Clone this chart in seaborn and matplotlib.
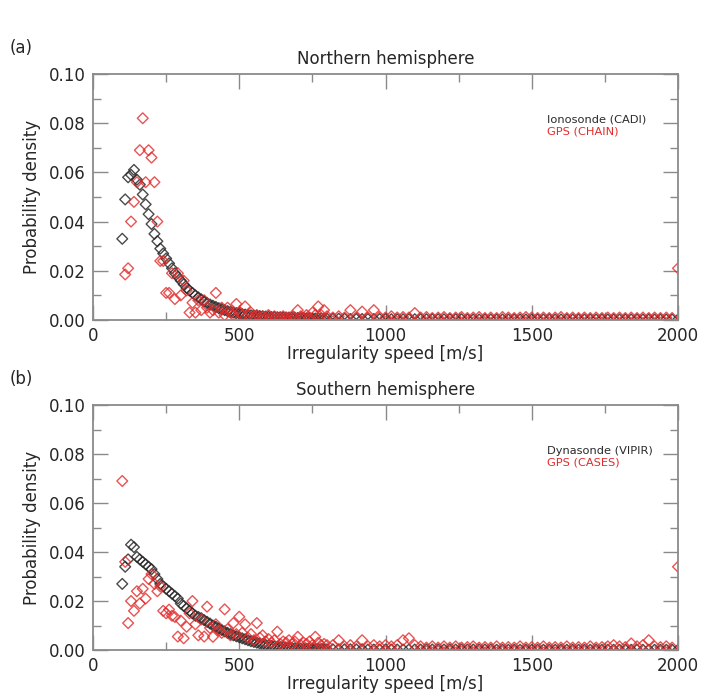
import numpy as np
import pandas as pd
import matplotlib
matplotlib.use("Agg")
import matplotlib.pyplot as plt
import seaborn as sns
from matplotlib.ticker import MultipleLocator

# ---------------- data ----------------
# speed bins [m/s]: 10 m/s bins up to 800, then every 20 m/s up to 2000
near_a_black = list(range(100, 801, 10))
near_red_a = list(range(110, 801, 10))
near_b = list(range(100, 801, 10))
far = list(range(820, 2001, 20))

iono_cadi_near = [
    .033, .049, .058, .059, .061, .057, .055, .051, .047, .043,
    .039, .035, .032, .029, .027, .025, .023, .021, .019, .0175,
    .016, .0145, .013, .012, .011, .010, .0092, .0084, .0076, .0069,
    .0063, .0058, .0053, .0048, .0044, .0040, .0036, .0033, .0030, .0028,
    .0026, .0024, .0022, .0020, .0019, .0018, .0017, .0016, .0015, .0014,
    .0013, .0012, .0012, .0011, .0011, .0010, .0010, .0009, .0009, .0008,
    .0008, .0008, .0007, .0007, .0007, .0006, .0006, .0006, .0006, .0005,
    .0005]
iono_cadi_far = [
    .0005, .0005, .0005, .0004, .0004, .0004, .0004, .0004, .0004, .0004,
    .0003, .0003, .0003, .0003, .0003, .0003, .0003, .0003, .0003, .0003,
    .0003, .0003, .0003, .0002, .0002, .0002, .0002, .0002, .0002, .0002,
    .0002, .0002, .0002, .0002, .0002, .0002, .0002, .0002, .0002, .0002,
    .0002, .0002, .0002, .0002, .0002, .0002, .0002, .0002, .0002, .0002,
    .0002, .0002, .0002, .0002, .0002, .0002, .0002, .0002, .0002, .0002]

gps_chain_near = [
    .0185, .021, .040, .048, .056, .069, .082, .056, .069, .066,
    .056, .040, .024, .024, .011, .011, .019, .0085, .019, .010,
    .016, .012, .003, .007, .003, .008, .004, .008, .005, .003,
    .004, .011, .003, .005, .002, .005, .003, .002, .0065, .003,
    .002, .0055, .002, .003, .0015, .002, .001, .0015, .001, .002,
    .001, .0015, .001, .001, .0015, .001, .001, .0015, .001, .004,
    .0015, .001, .002, .001, .003, .002, .0055, .002, .004, .0015]
gps_chain_far = [
    .001, .0015, .001, .004, .001, .0034, .001, .004, .0012, .001,
    .0015, .001, .0012, .001, .0028, .001, .0012, .0008, .001, .0012,
    .0008, .001, .0012, .0008, .001, .0012, .0008, .001, .0008, .0012,
    .001, .0008, .001, .0012, .001, .0008, .001, .0008, .001, .0012,
    .0008, .001, .0008, .001, .0008, .001, .0008, .001, .0008, .001,
    .0008, .001, .0008, .001, .0008, .001, .0008, .001, .0008, .021]

dyna_vipir_near = [
    .027, .034, .037, .043, .042, .038, .037, .036, .035, .034,
    .033, .031, .029, .027, .026, .025, .024, .023, .022, .021,
    .019, .018, .017, .016, .015, .014, .0135, .013, .0122, .0115,
    .0108, .010, .0095, .0088, .0082, .0076, .0070, .0065, .0060, .0056,
    .0052, .0048, .0044, .0040, .0036, .0033, .0030, .0027, .0024, .0021,
    .0019, .0017, .0015, .0013, .0012, .0011, .0010, .0009, .0008, .0007,
    .0006, .0006, .0005, .0005, .0005, .0004, .0004, .0004, .0004, .0003,
    .0003]
dyna_vipir_far = [
    .0003, .0003, .0003, .0003, .0003, .0003, .0002, .0002, .0002, .0002,
    .0002, .0002, .0002, .0002, .0002, .0002, .0002, .0002, .0002, .0002,
    .0002, .0002, .0002, .0002, .0002, .0002, .0002, .0002, .0001, .0001,
    .0001, .0001, .0001, .0001, .0001, .0001, .0001, .0001, .0001, .0001,
    .0001, .0001, .0001, .0001, .0001, .0001, .0001, .0001, .0001, .0001,
    .0001, .0001, .0001, .0001, .0001, .0001, .0001, .0001, .0001, .0001]

gps_cases_near = [
    .069, .036, .011, .020, .016, .024, .019, .025, .021, .029,
    .031, .027, .024, .026, .016, .015, .0165, .014, .0135, .0055,
    .012, .0048, .0095, .015, .020, .0105, .006, .0125, .0055, .0177,
    .009, .0054, .0105, .008, .007, .0166, .0085, .006, .011, .0065,
    .0136, .007, .0105, .005, .0065, .004, .011, .005, .006, .0035,
    .0045, .003, .004, .0075, .0025, .0035, .003, .004, .0025, .0035,
    .0054, .002, .003, .0025, .0035, .002, .0054, .003, .002, .0025,
    .002]
gps_cases_far = [
    .002, .004, .0015, .002, .0015, .004, .0015, .002, .0015, .002,
    .0015, .002, .004, .0048, .002, .0015, .001, .0015, .001, .0015,
    .001, .0015, .001, .0012, .0015, .001, .0012, .001, .0015, .001,
    .0012, .001, .0015, .001, .0012, .001, .0015, .001, .0012, .001,
    .0015, .001, .0012, .001, .0015, .001, .0012, .0015, .002, .0015,
    .0012, .0027, .0015, .002, .004, .0015, .0012, .0015, .001, .034]

panels = [
    dict(tag="(a)", title="Northern hemisphere",
         black=(near_a_black + far, iono_cadi_near + iono_cadi_far, "Ionosonde (CADI)"),
         red=(near_red_a + far, gps_chain_near + gps_chain_far, "GPS (CHAIN)")),
    dict(tag="(b)", title="Southern hemisphere",
         black=(near_b + far, dyna_vipir_near + dyna_vipir_far, "Dynasonde (VIPIR)"),
         red=(near_b + far, gps_cases_near + gps_cases_far, "GPS (CASES)")),
]

# ---------------- style ----------------
sns.set_style("ticks")
plt.rcParams["font.family"] = ["DejaVu Sans"]
TXT = "#262626"
SPINE = "#8a8a8a"
BLACK = "#2a2a2a"
RED = "#e22a2a"

fig = plt.figure(figsize=(7.02, 6.95), dpi=100)
rects = [[0.1325, 0.5396, 0.8333, 0.3540],
         [0.1325, 0.0647, 0.8333, 0.3525]]

for rect, p in zip(rects, panels):
    ax = fig.add_axes(rect)
    bx, by, blab = p["black"]
    rx, ry, rlab = p["red"]
    dfb = pd.DataFrame({"speed": bx, "density": by})
    dfr = pd.DataFrame({"speed": rx, "density": ry})
    sns.scatterplot(data=dfb, x="speed", y="density", ax=ax, marker="D", s=30,
                    facecolor="none", edgecolor=BLACK, linewidth=1.0, alpha=0.85,
                    legend=False)
    sns.scatterplot(data=dfr, x="speed", y="density", ax=ax, marker="D", s=30,
                    facecolor="none", edgecolor=RED, linewidth=1.0, alpha=0.8,
                    legend=False)
    ax.set_xlim(0, 2000)
    ax.set_ylim(0, 0.10)
    ax.xaxis.set_major_locator(MultipleLocator(500))
    ax.xaxis.set_minor_locator(MultipleLocator(250))
    ax.yaxis.set_major_locator(MultipleLocator(0.02))
    ax.yaxis.set_minor_locator(MultipleLocator(0.01))
    ax.yaxis.set_major_formatter(matplotlib.ticker.FormatStrFormatter("%.2f"))
    ax.tick_params(which="both", direction="in", top=True, right=True,
                   color=SPINE, width=1.0, labelsize=12, labelcolor=TXT)
    ax.tick_params(which="major", length=11, pad=5)
    ax.tick_params(which="minor", length=5.5)
    for s in ax.spines.values():
        s.set_color(SPINE)
        s.set_linewidth(1.3)
    ax.set_xlabel("Irregularity speed [m/s]", fontsize=12, color=TXT, labelpad=0)
    ax.set_ylabel("Probability density", fontsize=12, color=TXT, labelpad=6)
    ax.set_title(p["title"], fontsize=12, color=TXT, pad=7)
    ax.text(0.776, 0.813, blab, transform=ax.transAxes, fontsize=8.2,
            color=BLACK, va="center", ha="left")
    ax.text(0.776, 0.766, rlab, transform=ax.transAxes, fontsize=8.2,
            color=RED, va="center", ha="left")
    top_px = (1 - rect[1] - rect[3]) * 695
    fig.text(10 / 702, 1 - (top_px - 26) / 695, p["tag"], fontsize=12,
             color=TXT, va="center", ha="left")

fig.savefig("out.png", dpi=100)
